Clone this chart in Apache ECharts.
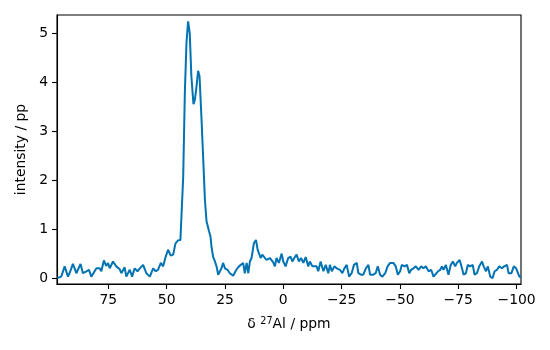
<!DOCTYPE html>
<html>
<head>
<meta charset="utf-8">
<script src="https://cdn.jsdelivr.net/npm/echarts@6/dist/echarts.min.js"></script>
<style>
  html, body { margin: 0; padding: 0; background: #fff; }
  #chart { width: 550px; height: 350px; }
</style>
</head>
<body>
<div id="chart"></div>
<script>
// chemical shift (ppm) and intensity
const shift = [96.9, 95.2, 93.7, 92.3, 91.6, 90.2, 88.7, 88.0, 86.9, 85.9, 84.4, 83.3, 82.3, 80.1, 78.7, 78.0,
  76.9, 75.9, 75.1, 74.4, 73.0, 71.6, 70.1, 69.4, 68.0, 67.3, 66.6, 65.8, 64.8, 63.7, 62.5, 61.5, 60.1, 58.7,
  57.2, 55.8, 54.7, 53.7, 52.5, 51.5, 50.4, 49.4, 48.2, 47.2, 46.2, 45.1, 44.1, 43.7, 42.9, 42.2, 41.5, 40.8,
  40.5, 40.1, 39.4, 38.5, 37.9, 37.2, 36.5, 35.9, 35.1, 34.3, 33.6, 32.9, 32.2, 31.8, 31.2, 30.8, 30.1, 29.3,
  28.6, 27.9, 27.2, 26.5, 25.8, 25.0, 23.9, 22.9, 21.5, 20.8, 20.0, 19.0, 18.2, 17.2, 16.5, 15.7, 15.0, 14.3,
  13.6, 12.6, 11.7, 11.0, 10.4, 9.7, 9.0, 8.2, 7.2, 5.7, 4.3, 3.6, 2.9, 1.9, 0.7, 0.0, -1.0, -2.1, -3.1, -3.9,
  -4.7, -5.7, -6.7, -7.6, -8.6, -9.6, -10.7, -11.4, -12.5, -13.3, -14.3, -15.0, -16.0, -17.2, -18.2, -19.3,
  -20.0, -20.8, -21.9, -22.9, -24.3, -25.3, -26.2, -27.2, -28.2, -29.3, -30.3, -31.5, -32.2, -33.3, -34.3,
  -35.4, -36.5, -37.2, -38.6, -39.6, -40.5, -41.5, -42.5, -43.7, -44.7, -45.8, -47.2, -48.2, -49.1, -50.1,
  -50.8, -52.0, -53.0, -54.0, -54.8, -55.8, -56.8, -58.0, -59.1, -60.1, -61.1, -62.3, -63.4, -64.4, -65.1,
  -66.3, -67.3, -68.0, -68.7, -69.7, -70.8, -71.8, -72.7, -73.7, -74.4, -75.6, -76.6, -77.3, -78.3, -79.1,
  -80.1, -81.2, -82.0, -83.0, -84.0, -85.2, -85.9, -86.9, -87.7, -88.7, -89.7, -90.6, -91.6, -92.6, -93.7,
  -94.7, -95.9, -96.6, -97.8, -98.8, -99.8, -100.6, -101.2, -101.9];
const intensity = [0.00, 0.03, 0.24, 0.03, 0.10, 0.29, 0.10, 0.07, 0.29, 0.10, 0.14, 0.17, 0.03, 0.20, 0.20, 0.14,
  0.36, 0.25, 0.31, 0.20, 0.34, 0.24, 0.18, 0.10, 0.22, 0.03, 0.00, 0.17, 0.03, 0.20, 0.14, 0.20, 0.27, 0.10,
  0.03, 0.20, 0.14, 0.17, 0.31, 0.24, 0.44, 0.58, 0.46, 0.48, 0.71, 0.77, 0.78, 0.78, 2.07, 3.78, 4.80, 5.24,
  5.27, 5.00, 4.12, 3.55, 3.64, 3.91, 4.23, 4.12, 3.30, 2.41, 1.60, 1.16, 1.12, 0.95, 0.85, 0.65, 0.44, 0.34,
  0.24, 0.07, 0.03, 0.20, 0.31, 0.20, 0.17, 0.10, 0.05, 0.03, 0.18, 0.24, 0.20, 0.31, 0.10, 0.31, 0.10, 0.34,
  0.41, 0.71, 0.78, 0.58, 0.54, 0.41, 0.48, 0.44, 0.37, 0.41, 0.32, 0.24, 0.41, 0.31, 0.50, 0.34, 0.24, 0.41, 0.44, 0.34,
  0.41, 0.48, 0.34, 0.41, 0.31, 0.43, 0.24, 0.34, 0.24, 0.20, 0.24, 0.14, 0.34, 0.14, 0.27, 0.10,
  0.27, 0.14, 0.24, 0.20, 0.17, 0.10, 0.20, 0.27, 0.03, 0.10, 0.27, 0.31, 0.10, 0.07, 0.07,
  0.20, 0.27, 0.07, 0.07, 0.10, 0.24, 0.07, 0.03, 0.10, 0.24, 0.31, 0.31, 0.24, 0.07, 0.14,
  0.27, 0.24, 0.27, 0.10, 0.17, 0.20, 0.24, 0.17, 0.24, 0.20, 0.24, 0.14, 0.17, 0.03, 0.00,
  0.14, 0.17, 0.24, 0.17, 0.27, 0.07, 0.27, 0.34, 0.24, 0.31, 0.37, 0.20, 0.07, 0.10, 0.27,
  0.24, 0.27, 0.07, 0.10, 0.24, 0.34, 0.24, 0.14, 0.24, 0.03, 0.00, 0.14, 0.17, 0.24, 0.20,
  0.24, 0.27, 0.10, 0.10, 0.24, 0.20, 0.17, 0.03, 0.03];

const xTicks = [75, 50, 25, 0, -25, -50, -75, -100];
const yTicks = [0, 1, 2, 3, 4, 5];

const minus = v => v < 0 ? '\u2212' + Math.abs(v) : String(v);
const font = 'DejaVu Sans';

echarts.init(document.getElementById('chart')).setOption({
  animation: false,
  textStyle: {fontFamily: font},
  grid: {
    left: 57, right: 29, top: 15, bottom: 66,
    show: true, borderColor: '#000', borderWidth: 1.1
  },
  xAxis: {
    type: 'value',
    inverse: true,
    min: -101.9, max: 97.0,
    name: '{t|δ }{s|27}{t|Al / ppm}',
    nameLocation: 'middle',
    nameGap: 32,
    nameTextStyle: {
      rich: {
        t: {fontFamily: font, fontSize: 13.9, color: '#000'},
        s: {fontFamily: font, fontSize: 9.7, color: '#000', padding: [0, 0, 6, 0]}
      }
    },
    splitLine: {show: false},
    axisLine: {onZero: false, lineStyle: {color: '#000', width: 1.1}},
    axisTick: {customValues: xTicks, length: 5, lineStyle: {color: '#000', width: 1.1}},
    axisLabel: {customValues: xTicks, formatter: minus, color: '#000', fontSize: 13.9, margin: 9}
  },
  yAxis: {
    type: 'value',
    min: -0.12, max: 5.37,
    name: 'intensity / pp',
    nameLocation: 'middle',
    nameGap: 27,
    nameTextStyle: {color: '#000', fontSize: 13.9},
    splitLine: {show: false},
    axisLine: {show: true, onZero: false, lineStyle: {color: '#000', width: 1.1}},
    axisTick: {customValues: yTicks, length: 5, lineStyle: {color: '#000', width: 1.1}},
    axisLabel: {customValues: yTicks, color: '#000', fontSize: 13.9, margin: 9}
  },
  series: [{
    type: 'line',
    data: shift.map((s, i) => [s, intensity[i]]),
    showSymbol: false,
    lineStyle: {color: '#0173b2', width: 2}
  }]
});
</script>
</body>
</html>
